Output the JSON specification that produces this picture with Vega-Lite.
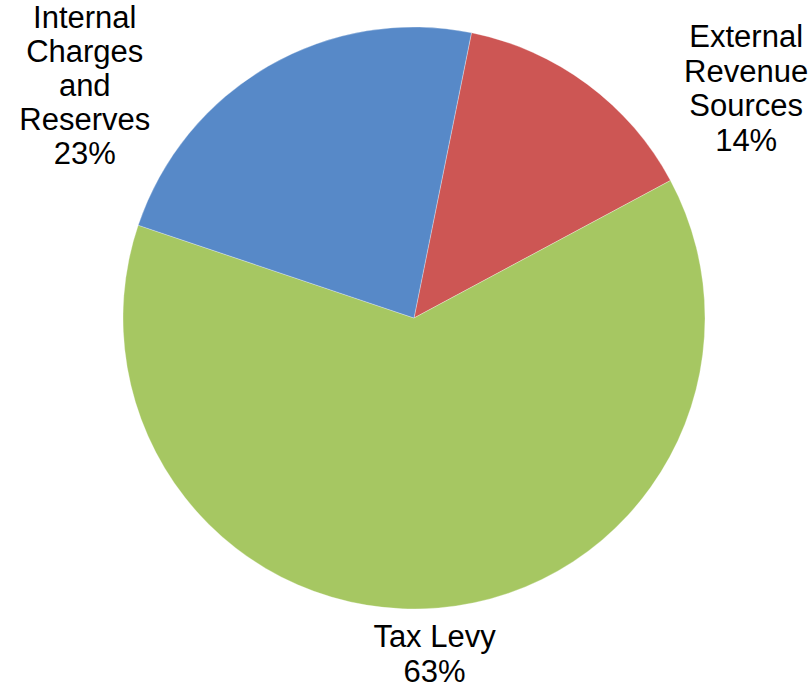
{
  "$schema": "https://vega.github.io/schema/vega-lite/v6.json",
  "width": 794,
  "height": 636,
  "padding": {"left": 17, "top": 0, "right": 0, "bottom": 55},
  "autosize": {"type": "none"},
  "background": "white",
  "config": {"view": {"stroke": null}},
  "data": {
    "values": [
      {"category": "External Revenue Sources", "value": 14, "order": 1, "label": "External\nRevenue\nSources\n14%"},
      {"category": "Tax Levy", "value": 63, "order": 2, "label": "Tax Levy\n63%"},
      {"category": "Internal Charges and Reserves", "value": 23, "order": 3, "label": "Internal\nCharges\nand\nReserves\n23%"}
    ]
  },
  "encoding": {
    "theta": {"field": "value", "type": "quantitative", "stack": true, "scale": {"range": [0.199, 6.482]}},
    "order": {"field": "order", "type": "quantitative"}
  },
  "layer": [
    {
      "mark": {"type": "arc", "outerRadius": 291, "stroke": "white", "strokeWidth": 0.3},
      "encoding": {
        "color": {
          "field": "category",
          "type": "nominal",
          "legend": null,
          "scale": {
            "domain": ["External Revenue Sources", "Tax Levy", "Internal Charges and Reserves"],
            "range": ["#CD5654", "#A6C762", "#5789C8"]
          }
        }
      }
    },
    {
      "mark": {"type": "text", "radius": 403, "thetaOffset": 0.33, "dy": -51.75, "font": "Liberation Sans", "fontSize": 31, "lineHeight": 34.5, "lineBreak": "\n", "align": "center", "baseline": "middle", "color": "black"},
      "encoding": {
        "text": {"condition": {"test": "datum.category === 'External Revenue Sources'", "field": "label"}, "value": ""}
      }
    },
    {
      "mark": {"type": "text", "radius": 338, "thetaOffset": 0.023, "dy": -17.5, "font": "Liberation Sans", "fontSize": 31, "lineHeight": 35, "lineBreak": "\n", "align": "center", "baseline": "middle", "color": "black"},
      "encoding": {
        "text": {"condition": {"test": "datum.category === 'Tax Levy'", "field": "label"}, "value": ""}
      }
    },
    {
      "mark": {"type": "text", "radius": 402, "thetaOffset": -0.436, "dy": -68, "font": "Liberation Sans", "fontSize": 31, "lineHeight": 34, "lineBreak": "\n", "align": "center", "baseline": "middle", "color": "black"},
      "encoding": {
        "text": {"condition": {"test": "datum.category === 'Internal Charges and Reserves'", "field": "label"}, "value": ""}
      }
    }
  ]
}
